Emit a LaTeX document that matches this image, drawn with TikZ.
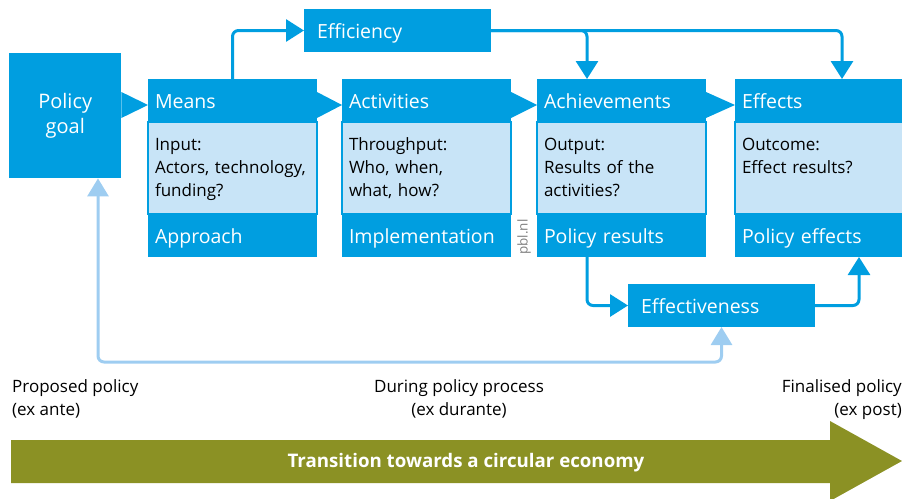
\documentclass[tikz,border=0pt]{standalone}
\usepackage{fontspec}
\setmainfont{Open Sans}
\usetikzlibrary{positioning}
\usetikzlibrary{calc}
\usetikzlibrary{arrows.meta}

\definecolor{pblblue}{RGB}{0,158,224}
\definecolor{pbllight}{RGB}{200,228,247}
\definecolor{pblpale}{RGB}{158,205,241}
\definecolor{pblolive}{RGB}{139,145,36}

% filled wedge between two neighbouring boxes
\newcommand{\joint}[2]{\fill[pblblue] ($(#1.east |- #2.north)+(0,13)$) -- ($(#1.east |- #2.north)+(0,39)$) -- ($(#2.north west)+(0,26)$) -- cycle;}

\begin{document}
\begin{tikzpicture}[x=1pt,y=-1pt,>={Triangle[length=18pt,width=22pt]},node distance=0pt]
	\tikzstyle{head}=[fill=pblblue,text=white,anchor=north west,minimum height=43pt,
		text width=155pt,inner xsep=7pt,inner ysep=0pt,outer sep=0pt,align=left,
		text height=17pt,text depth=2pt,font=\fontsize{19.5}{24}\selectfont]
	\tikzstyle{body}=[head,fill=pbllight,draw=pblblue,line width=2pt,text=black,
		minimum height=92pt,inner ysep=16pt,text height=12pt,text depth=48pt,
		font=\fontsize{17}{23.3}\selectfont]
	\tikzstyle{side}=[head,text width=161pt,inner xsep=13pt]
	\tikzstyle{goal}=[fill=pblblue,text=white,anchor=north west,minimum width=112pt,
		minimum height=125pt,inner sep=0pt,align=center,font=\fontsize{20}{25.7}\selectfont]
	\tikzstyle{flow}=[->,draw=pblblue,line width=3pt,rounded corners=6pt]
	\tikzstyle{back}=[<->,draw=pblpale,line width=3pt,rounded corners=6pt,
		>={Triangle[length=18pt,width=21pt]}]
	\tikzstyle{phase}=[inner sep=0pt,font=\fontsize{17}{23.3}\selectfont]

	\useasboundingbox (0,0) rectangle (902,498);

	\node[goal]  (goal)     at (9,53)               {Policy\\goal};

	\node[head]  (means)    at (148,79)             {Means};
	\node[body]  (meansb)   [below=of means]        {Input:\\Actors, technology,\\funding?};
	\node[head]  (meansf)   [below=of meansb]       {Approach};

	\node[head]  (act)      at (342,79)             {Activities};
	\node[body]  (actb)     [below=of act]          {Throughput:\\Who, when,\\what, how?};
	\node[head]  (actf)     [below=of actb]         {Implementation};

	\node[head]  (ach)      at (537,79)             {Achievements};
	\node[body]  (achb)     [below=of ach]          {Output:\\Results of the\\activities?};
	\node[head]  (achf)     [below=of achb]         {Policy results};

	\node[head]  (effects)  at (735,79)             {Effects};
	\node[body]  (effectsb) [below=of effects]      {Outcome:\\Effect results?};
	\node[head]  (effectsf) [below=of effectsb]     {Policy effects};

	\node[side]  (eff)      at (304,9)              {Efficiency};
	\node[side]  (effv)     at (628,284)            {Effectiveness};

	\node[rotate=90,text=gray,inner sep=0pt,font=\fontsize{13.5}{16}\selectfont]
		(pbl) at (524,237) {pbl.nl};

	\joint{goal}{means}
	\joint{means}{act}
	\joint{act}{ach}
	\joint{ach}{effects}

	\draw[flow] (means.north) |- (eff.west);
	\draw[flow] (eff.east) -| ([xshift=50pt]ach.north west);
	\draw[flow] (eff.east) -| ([xshift=107pt]effects.north west);
	\draw[flow] ([xshift=50pt]achf.south west) |- (effv.west);
	\draw[flow] (effv.east) -| ([xshift=124pt]effectsf.south west);

	\coordinate (fbline) at (400,362);
	\draw[back] ([xshift=89pt]goal.south west) |- (fbline) -| (effv.south);

	% time line
	\node[phase,anchor=north west,align=left]   (ante)    at (12,379)  {Proposed policy\\(ex ante)};
	\node[phase,anchor=north,align=center]      (durante) at (459,379) {During policy process\\(ex durante)};
	\node[phase,anchor=north east,align=right]  (post)    at (902,379) {Finalised policy\\(ex post)};

	\fill[pblolive] (11,440) -- (830,440) -- (830,421) -- (902,461) -- (830,501)
		-- (830,483) -- (11,483) -- cycle;
	\node[text=white,inner sep=0pt,anchor=base,font=\fontsize{18.7}{22}\selectfont\bfseries]
		(transition) at (466,467.5) {Transition towards a circular economy};
\end{tikzpicture}
\end{document}
